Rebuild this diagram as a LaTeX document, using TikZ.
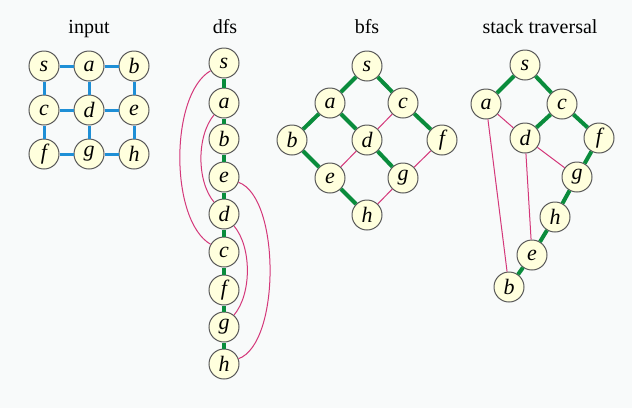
\documentclass[tikz,border=0pt]{standalone}
\usepackage{fontspec}
\setmainfont{Liberation Serif}
\usetikzlibrary{positioning}
\definecolor{gridblue}{HTML}{1F8FD6}
\definecolor{treegreen}{HTML}{0A8C3C}
\definecolor{backpink}{HTML}{D4387A}
\definecolor{vertexfill}{HTML}{FFFFDD}
\definecolor{bgcolor}{HTML}{F8FAFA}
\tikzset{
  vertex/.style = {circle, draw=black!65, line width=0.5pt, fill=vertexfill,
    minimum size=15pt, inner sep=0pt, font=\fontsize{11}{13}\selectfont\itshape},
  grid edge/.style = {draw=gridblue, line width=1.5pt},
  tree edge/.style = {draw=treegreen, line width=2pt},
  back edge/.style = {draw=backpink, line width=0.5pt},
  title/.style = {anchor=base}
}

\begin{document}
\begin{tikzpicture}[x=0.5pt, y=-0.5pt]

    % Background
    \fill[bgcolor] (0,0) rectangle (632,408);
    \useasboundingbox (0,0) rectangle (632,408);

    % Titles
    \node[title] (t-in) at (89,33) {input};
    \node[title] (t-dfs) at (225,33) {dfs};
    \node[title] (t-bfs) at (367,33) {bfs};
    \node[title] (t-st) at (540,33) {stack traversal};

    %% Input grid
    \node[vertex] (in-s) at (44,66) {s};
    \node[vertex] (in-a) at (89,66) {a};
    \node[vertex] (in-b) at (134,66) {b};
    \node[vertex] (in-c) at (44,110) {c};
    \node[vertex] (in-d) at (89,110) {d};
    \node[vertex] (in-e) at (134,110) {e};
    \node[vertex] (in-f) at (44,154) {f};
    \node[vertex] (in-g) at (89,154) {g};
    \node[vertex] (in-h) at (134,154) {h};

    \draw[grid edge] (in-s) -- (in-a) -- (in-b);
    \draw[grid edge] (in-c) -- (in-d) -- (in-e);
    \draw[grid edge] (in-f) -- (in-g) -- (in-h);
    \draw[grid edge] (in-s) -- (in-c) -- (in-f);
    \draw[grid edge] (in-a) -- (in-d) -- (in-g);
    \draw[grid edge] (in-b) -- (in-e) -- (in-h);

    %% Depth-first search
    \node[vertex] (df-s) at (224,63) {s};
    \node[vertex] (df-a) at (224,103) {a};
    \node[vertex] (df-b) at (224,139) {b};
    \node[vertex] (df-e) at (224,177) {e};
    \node[vertex] (df-d) at (224,214) {d};
    \node[vertex] (df-c) at (224,252) {c};
    \node[vertex] (df-f) at (224,290) {f};
    \node[vertex] (df-g) at (224,327) {g};
    \node[vertex] (df-h) at (224,364) {h};

    \draw[tree edge] (df-s) -- (df-a) -- (df-b) -- (df-e) -- (df-d)
      -- (df-c) -- (df-f) -- (df-g) -- (df-h);
    \draw[back edge] (df-s) to[bend right=60, looseness=0.7] (df-c);
    \draw[back edge] (df-a) to[bend right=40, looseness=0.8] (df-d);
    \draw[back edge] (df-d) to[bend left=40, looseness=0.8] (df-g);
    \draw[back edge] (df-e) to[bend left=70, looseness=0.65] (df-h);

    %% Breadth-first search
    \node[vertex] (bf-s) at (367,66) {s};
    \node[vertex] (bf-a) at (330,103) {a};
    \node[vertex] (bf-c) at (403,103) {c};
    \node[vertex] (bf-b) at (292,140) {b};
    \node[vertex] (bf-d) at (367,140) {d};
    \node[vertex] (bf-f) at (442,140) {f};
    \node[vertex] (bf-e) at (330,178) {e};
    \node[vertex] (bf-g) at (403,178) {g};
    \node[vertex] (bf-h) at (367,215) {h};

    \draw[tree edge] (bf-b) -- (bf-a) -- (bf-s) -- (bf-c) -- (bf-f);
    \draw[tree edge] (bf-a) -- (bf-d) -- (bf-g);
    \draw[tree edge] (bf-b) -- (bf-e) -- (bf-h);
    \draw[back edge] (bf-c) -- (bf-d) -- (bf-e);
    \draw[back edge] (bf-f) -- (bf-g) -- (bf-h);

    %% Stack traversal
    \node[vertex] (st-s) at (525,65) {s};
    \node[vertex] (st-a) at (486,104) {a};
    \node[vertex] (st-c) at (562,104) {c};
    \node[vertex] (st-d) at (525,138) {d};
    \node[vertex] (st-f) at (599,138) {f};
    \node[vertex] (st-g) at (577,177) {g};
    \node[vertex] (st-h) at (555,217) {h};
    \node[vertex] (st-e) at (532,255) {e};
    \node[vertex] (st-b) at (509,287) {b};

    \draw[tree edge] (st-a) -- (st-s) -- (st-c) -- (st-f) -- (st-g)
      -- (st-h) -- (st-e) -- (st-b);
    \draw[tree edge] (st-c) -- (st-d);
    \draw[back edge] (st-a) -- (st-d) -- (st-g);
    \draw[back edge] (st-a) -- (st-b);
    \draw[back edge] (st-d) -- (st-e);

\end{tikzpicture}
\end{document}
